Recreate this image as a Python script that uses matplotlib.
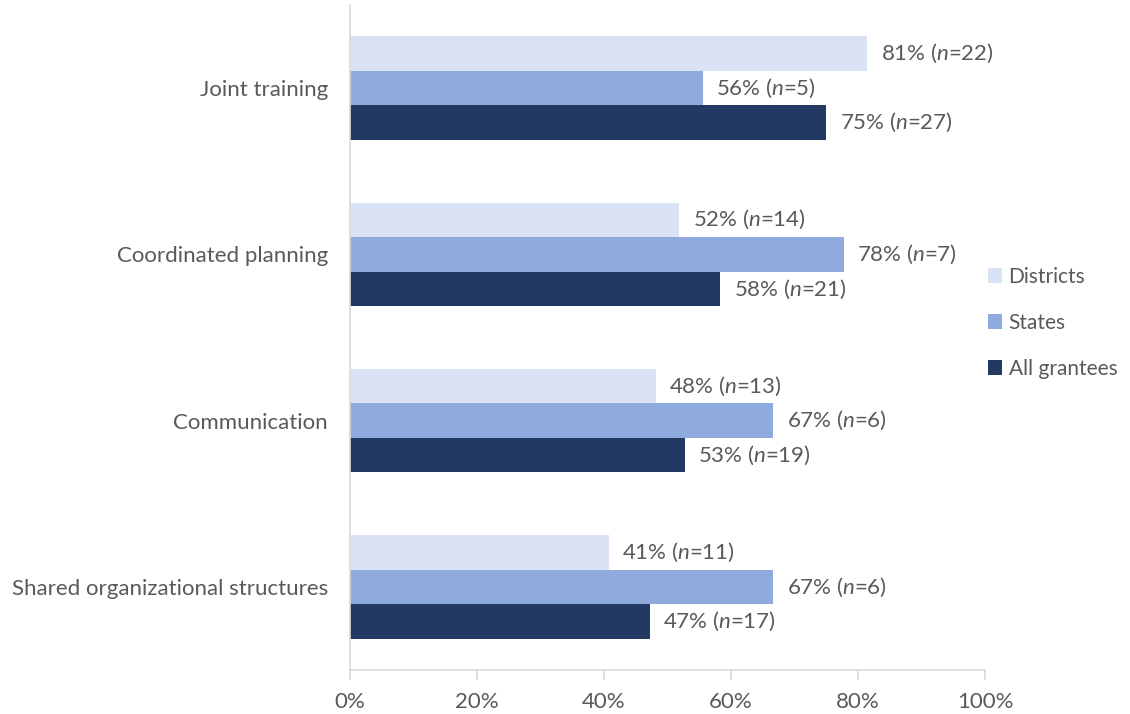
import matplotlib
matplotlib.use("Agg")
import matplotlib.pyplot as plt
from matplotlib.patches import Patch
import numpy as np

plt.rcParams['font.family'] = ['Lato', 'DejaVu Sans']
plt.rcParams['mathtext.fontset'] = 'custom'
plt.rcParams['mathtext.rm'] = 'Lato'
plt.rcParams['mathtext.it'] = 'Lato:italic'

# collaboration activities, top to bottom
activities = ["Joint training", "Coordinated planning", "Communication",
              "Shared organizational structures"]

series = ["Districts", "States", "All grantees"]
district_n = [22, 14, 13, 11]
state_n = [5, 7, 6, 6]
all_n = [27, 21, 19, 17]
totals = [27, 9, 36]

colors = ["#dae3f3", "#8faadc", "#223963"]
text_grey = "#595959"
fs = 16

fig = plt.figure(figsize=(11.3, 7.14), dpi=100)
ax = fig.add_axes([350 / 1130, 1 - 670 / 714, 635 / 1130, 665 / 714])

y = np.arange(len(activities))
h = 0.208
counts = [district_n, state_n, all_n]
for i, (name, ns, tot, col) in enumerate(zip(series, counts, totals, colors)):
    vals = np.array(ns) / tot
    pos = y + (i - 1) * h
    ax.barh(pos, vals, height=h, color=col, label=name)
    for p, v, n in zip(pos, vals, ns):
        ax.text(v + 0.021, p, f"{round(v * 100):.0f}% ($\\it{{n}}$={n})",
                va="center", ha="left", fontsize=fs, color=text_grey)

ax.set_ylim(len(activities) - 0.5, -0.5)
ax.set_xlim(0, 1)
ax.set_yticks(y)
ax.set_yticklabels(activities, fontsize=fs, color=text_grey)
ax.tick_params(axis="y", length=0, pad=16)
ax.set_xticks(np.linspace(0, 1, 6))
ax.set_xticklabels([f"{int(t)}%" for t in np.linspace(0, 100, 6)],
                   fontsize=fs, color=text_grey)
ax.tick_params(axis="x", length=7, width=1.2, color="#d9d9d9", pad=9)

for s in ["top", "right"]:
    ax.spines[s].set_visible(False)
ax.spines["left"].set_color("#d9d9d9")
ax.spines["left"].set_linewidth(1.2)
ax.spines["bottom"].set_color("#d9d9d9")
ax.spines["bottom"].set_linewidth(1.2)

handles = [Patch(facecolor=c, edgecolor="none") for c in colors]
fig.legend(handles, series, loc="center left", bbox_to_anchor=(969 / 1130, 1 - 323 / 714),
           frameon=False, fontsize=15, labelcolor=text_grey, handlelength=0.7,
           handleheight=0.7, handletextpad=0.3, labelspacing=1.25)

fig.savefig("out.png", dpi=100)
